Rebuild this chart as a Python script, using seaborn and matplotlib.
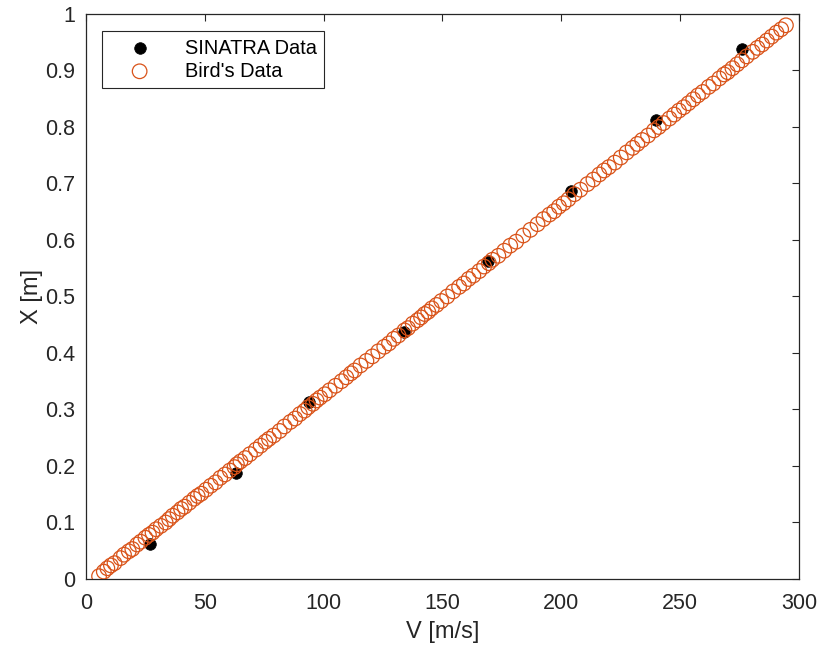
import matplotlib
matplotlib.use("Agg")
import matplotlib.pyplot as plt
import seaborn as sns
import pandas as pd

# SINATRA simulation results
sinatra_v = [27.0, 63.0, 94.0, 134.0, 169.0, 204.0, 240.0, 276.0]
sinatra_x = [0.0625, 0.1875, 0.3125, 0.4375, 0.5625, 0.6875, 0.8125, 0.9375]

# Bird's reference data
bird_v = [5.5, 7.5, 9.0, 10.5, 12.0, 14.5, 16.0, 18.0, 19.5, 21.5,
          23.0, 25.0, 26.5, 28.0, 29.5, 31.5, 33.5, 35.0, 36.5, 38.5,
          40.0, 41.5, 43.5, 45.5, 47.0, 48.5, 50.5, 52.5, 54.5, 56.5,
          58.5, 60.5, 62.5, 63.5, 65.0, 67.0, 69.0, 71.5, 73.5, 75.5,
          77.0, 79.0, 81.5, 83.5, 86.0, 88.0, 90.0, 92.0, 93.5, 95.5,
          97.0, 98.5, 100.5, 102.5, 105.0, 107.5, 109.5, 111.5, 113.0, 115.5,
          118.0, 120.5, 123.0, 125.5, 127.5, 129.5, 131.5, 134.0, 135.5, 137.5,
          139.5, 141.0, 142.5, 144.0, 145.5, 147.5, 149.5, 152.0, 154.5, 157.0,
          159.0, 161.0, 163.0, 165.5, 167.5, 169.5, 171.0, 173.5, 176.0, 178.5,
          181.0, 184.0, 187.0, 190.0, 192.5, 195.0, 197.0, 199.0, 201.0, 203.0,
          205.5, 208.0, 211.0, 213.5, 216.0, 218.0, 220.0, 222.5, 225.0, 227.5,
          230.0, 232.0, 234.0, 236.5, 239.0, 241.0, 243.0, 245.5, 247.5, 249.5,
          251.5, 253.5, 255.5, 257.5, 259.5, 262.0, 264.0, 266.5, 268.5, 270.0,
          272.0, 274.0, 276.0, 278.0, 280.5, 282.5, 284.5, 286.5, 288.5, 290.5,
          292.5, 294.5]
bird_x = [0.005, 0.013, 0.019, 0.024, 0.028, 0.037, 0.043, 0.049, 0.053, 0.061,
          0.066, 0.073, 0.078, 0.082, 0.088, 0.094, 0.100, 0.106, 0.112, 0.118,
          0.124, 0.128, 0.135, 0.142, 0.147, 0.151, 0.158, 0.165, 0.171, 0.179,
          0.185, 0.192, 0.198, 0.203, 0.208, 0.214, 0.221, 0.229, 0.236, 0.243,
          0.248, 0.254, 0.262, 0.270, 0.278, 0.284, 0.292, 0.298, 0.304, 0.310,
          0.316, 0.321, 0.327, 0.334, 0.342, 0.350, 0.357, 0.364, 0.369, 0.378,
          0.386, 0.394, 0.403, 0.411, 0.417, 0.425, 0.431, 0.440, 0.444, 0.452,
          0.458, 0.463, 0.469, 0.473, 0.479, 0.485, 0.492, 0.500, 0.509, 0.517,
          0.523, 0.531, 0.537, 0.545, 0.553, 0.559, 0.565, 0.572, 0.581, 0.590,
          0.597, 0.608, 0.618, 0.628, 0.637, 0.645, 0.651, 0.659, 0.665, 0.672,
          0.681, 0.689, 0.699, 0.707, 0.716, 0.723, 0.729, 0.737, 0.746, 0.755,
          0.763, 0.770, 0.777, 0.785, 0.794, 0.800, 0.807, 0.815, 0.822, 0.829,
          0.835, 0.842, 0.849, 0.856, 0.862, 0.871, 0.877, 0.886, 0.893, 0.897,
          0.904, 0.911, 0.918, 0.925, 0.933, 0.940, 0.946, 0.953, 0.960, 0.967,
          0.973, 0.980]

x_ticks = [0, 50, 100, 150, 200, 250, 300]
y_ticks = [0, 0.1, 0.2, 0.3, 0.4, 0.5, 0.6, 0.7, 0.8, 0.9, 1]
y_tick_labels = ["0", "0.1", "0.2", "0.3", "0.4", "0.5", "0.6", "0.7", "0.8", "0.9", "1"]

sns.set_style("white")
plt.rcParams["font.family"] = ["Liberation Sans", "DejaVu Sans"]

ink = "#262626"
orange = "#D95319"

fig = plt.figure(figsize=(8.22, 6.54), dpi=100)
ax = fig.add_axes([0.1046, 0.1147, 0.8674, 0.8639])

df_s = pd.DataFrame({"V": sinatra_v, "X": sinatra_x})
df_b = pd.DataFrame({"V": bird_v, "X": bird_x})

sns.scatterplot(data=df_s, x="V", y="X", ax=ax, color="black", s=70,
                edgecolor="black", linewidth=0.5, label="SINATRA Data", zorder=2)
sns.scatterplot(data=df_b, x="V", y="X", ax=ax, facecolors="none", s=110,
                edgecolor=orange, linewidth=0.9, label="Bird's Data", zorder=3)

ax.set_xlim(0, 300)
ax.set_ylim(0, 1)
ax.set_xticks(x_ticks)
ax.set_yticks(y_ticks)
ax.set_yticklabels(y_tick_labels)
ax.set_xlabel("V [m/s]", fontsize=17, color=ink, labelpad=5)
ax.set_ylabel("X [m]", fontsize=17, color=ink, labelpad=1)

ax.tick_params(axis="both", which="both", direction="in", length=5, width=0.8,
               colors=ink, labelsize=15.5, top=True, right=True)
ax.tick_params(axis="x", pad=10)
ax.tick_params(axis="y", pad=8)
for sp in ax.spines.values():
    sp.set_visible(True)
    sp.set_color(ink)
    sp.set_linewidth(0.9)

leg = ax.legend(loc="upper left", bbox_to_anchor=(0.0225, 0.97), fontsize=14.4,
                frameon=True, fancybox=False, framealpha=1, edgecolor=ink,
                borderpad=0.38, handletextpad=0.75, borderaxespad=0.0,
                labelspacing=0.2, handlelength=3.0)
leg.get_frame().set_linewidth(0.8)
for t in leg.get_texts():
    t.set_color("black")

fig.savefig("out.png", dpi=100)
